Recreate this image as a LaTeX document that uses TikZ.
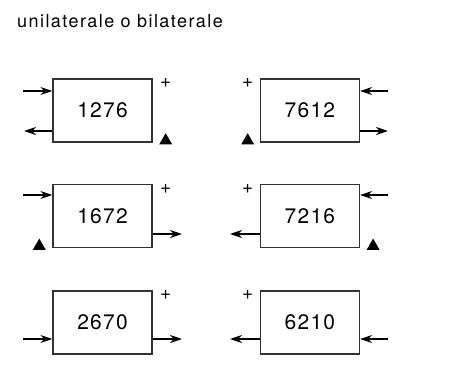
\documentclass[tikz,border=0pt]{standalone}
\usepackage{fontspec}
\setmainfont{TeX Gyre Heros}[LetterSpace=6]
\newfontfamily\titlefont{TeX Gyre Heros}[LetterSpace=8]
\usetikzlibrary{arrows.meta,positioning,calc,shapes.geometric}

\begin{document}
\begin{tikzpicture}[x=1pt,y=-1pt,>={Stealth[length=12pt,width=8pt,inset=4pt]},
  node distance=41pt and 107pt,
  blk/.style={draw=black!80,line width=1.4pt,minimum width=99pt,minimum height=63pt,
    inner sep=0pt,font=\fontsize{21}{24}\selectfont},
  plus/.style={inner sep=0pt,font=\fontsize{19}{21}\selectfont},
  tri/.style={regular polygon,regular polygon sides=3,fill=black,minimum size=15pt,inner sep=0pt},
  wire/.style={->,line width=1.2pt}]
\useasboundingbox (0,0) rectangle (475,383);

\node[anchor=base west,inner sep=0pt,font=\titlefont\fontsize{18}{21}\selectfont] (title) at (17,27) {unilaterale o bilaterale};

\node[blk]   (b1276) at (102.5,110.5) {1276};
 \node[blk]  (b7612) [right=of b1276] {7612};
\node[blk]   (b1672) [below=of b1276] {1672};
 \node[blk]  (b7216) [right=of b1672] {7216};
\node[blk]   (b2670) [below=42pt of b1672] {2670};
 \node[blk]  (b6210) [right=of b2670] {6210};

% + and triangle marks
\node[plus] (p1276) at ($(b1276.north east)+(13,5)$) {+};
\node[plus] (p7612) at ($(b7612.north west)+(-12,5)$) {+};
\node[plus] (p1672) at ($(b1672.north east)+(13,5)$) {+};
\node[plus] (p7216) at ($(b7216.north west)+(-12,5)$) {+};
\node[plus] (p2670) at ($(b2670.north east)+(13,5)$) {+};
\node[plus] (p6210) at ($(b6210.north west)+(-12,5)$) {+};

\node[tri] (t1276) at ($(b1276.south east)+(13,-2)$) {};
\node[tri] (t7612) at ($(b7612.south west)+(-12,-2)$) {};
\node[tri] (t1672) at ($(b1672.south west)+(-13,-2)$) {};
\node[tri] (t7216) at ($(b7216.south east)+(13,-2)$) {};

% free ends
\coordinate (i1276) at (23,91);   \coordinate (o1276) at (24,131);
\coordinate (i7612) at (388,91);  \coordinate (o7612) at (388,131);
\coordinate (i1672) at (23,195);  \coordinate (o1672) at (182,234);
\coordinate (i7216) at (388,195); \coordinate (o7216) at (230,234);
\coordinate (i2670) at (23,339);  \coordinate (o2670) at (182,339);
\coordinate (i6210) at (388,339); \coordinate (o6210) at (230,339);

\draw[wire] (i1276) -- (i1276 -| b1276.west);
\draw[wire] (o1276 -| b1276.west) -- (o1276);
\draw[wire] (i7612) -- (i7612 -| b7612.east);
\draw[wire] (o7612 -| b7612.east) -- (o7612);
\draw[wire] (i1672) -- (i1672 -| b1672.west);
\draw[wire] (o1672 -| b1672.east) -- (o1672);
\draw[wire] (i7216) -- (i7216 -| b7216.east);
\draw[wire] (o7216 -| b7216.west) -- (o7216);
\draw[wire] (i2670) -- (i2670 -| b2670.west);
\draw[wire] (o2670 -| b2670.east) -- (o2670);
\draw[wire] (i6210) -- (i6210 -| b6210.east);
\draw[wire] (o6210 -| b6210.west) -- (o6210);

\end{tikzpicture}
\end{document}
